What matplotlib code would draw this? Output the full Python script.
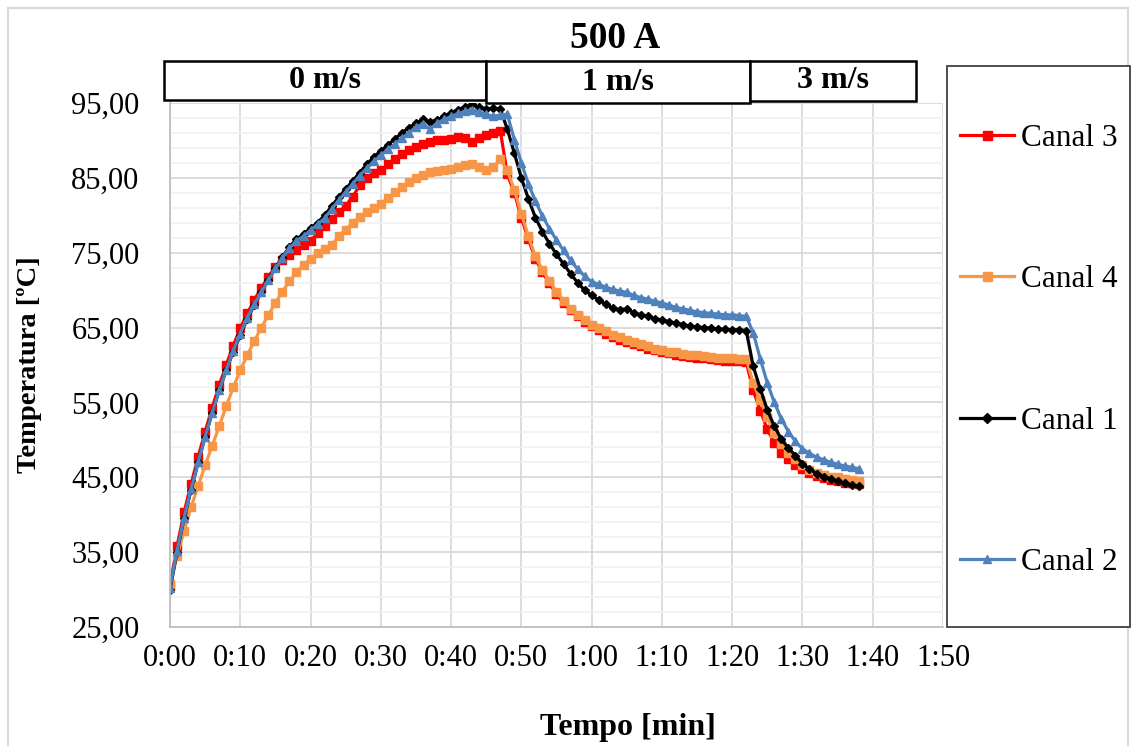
import matplotlib
matplotlib.use('Agg')
import matplotlib.pyplot as plt
from matplotlib.patches import Rectangle
from matplotlib.ticker import FuncFormatter

plt.rcParams['font.family'] = ['Liberation Serif', 'DejaVu Serif']

# tempo em minutos (um ponto por minuto)
tempo = list(range(0, 99))

canal3 = [30.5, 35.8, 40.3, 44.1, 47.7, 51.1, 54.3, 57.3, 60.0, 62.6,
          64.9, 66.9, 68.7, 70.3, 71.8, 73.1, 74.0, 74.7, 75.3, 76.0,
          76.6, 77.6, 78.6, 79.5, 80.4, 81.3, 82.5, 84.0, 85.0, 85.6,
          86.0, 86.8, 87.5, 88.2, 88.7, 89.1, 89.5, 89.8, 90.0, 90.1,
          90.2, 90.4, 90.3, 89.8, 90.3, 90.7, 91.0, 91.3, 85.5, 83.0,
          79.7, 76.8, 74.2, 72.4, 70.9, 69.5, 68.3, 67.3, 66.5, 65.8,
          65.2, 64.7, 64.2, 63.8, 63.4, 63.1, 62.8, 62.5, 62.2, 62.0,
          61.8, 61.6, 61.4, 61.2, 61.1, 61.0, 60.9, 60.8, 60.7, 60.6,
          60.5, 60.5, 60.4, 56.6, 53.9, 51.4, 49.6, 48.3, 47.4, 46.7,
          46.1, 45.6, 45.2, 44.9, 44.7, 44.5, 44.3, 44.2, 44.1]

canal4 = [30.8, 34.5, 37.8, 41.0, 43.8, 46.6, 49.2, 51.8, 54.5, 57.0,
          59.3, 61.3, 63.2, 65.0, 66.7, 68.3, 69.8, 71.2, 72.4, 73.4,
          74.2, 74.9, 75.5, 76.0, 77.2, 78.1, 79.0, 79.8, 80.5, 81.0,
          81.5, 82.3, 83.1, 83.8, 84.4, 85.0, 85.4, 85.8, 85.9, 86.0,
          86.2, 86.5, 86.7, 86.8, 86.4, 86.0, 86.4, 87.5, 86.0, 83.4,
          80.2, 77.2, 74.5, 72.7, 71.2, 69.8, 68.6, 67.5, 66.7, 66.0,
          65.4, 65.0, 64.5, 64.0, 63.7, 63.4, 63.1, 62.8, 62.5, 62.2,
          62.0, 61.8, 61.7, 61.5, 61.4, 61.3, 61.2, 61.1, 61.0, 60.9,
          60.9, 60.8, 60.8, 57.6, 55.3, 53.0, 50.9, 49.5, 48.2, 47.4,
          46.6, 46.0, 45.6, 45.3, 45.1, 45.0, 44.8, 44.6, 44.5]

canal1 = [30.0, 35.0, 39.5, 43.3, 47.0, 50.4, 53.6, 56.6, 59.3, 61.8,
          64.0, 66.2, 68.0, 69.8, 71.4, 73.0, 74.4, 75.8, 76.8, 77.5,
          78.3, 79.0, 80.0, 81.2, 82.4, 83.5, 84.6, 85.7, 86.8, 87.8,
          88.6, 89.4, 90.2, 91.0, 91.7, 92.3, 92.8, 92.5, 92.7, 93.2,
          93.7, 94.1, 94.5, 94.8, 94.4, 94.2, 94.3, 94.2, 91.5, 88.3,
          85.0, 82.2, 79.7, 77.8, 76.2, 74.8, 73.5, 72.2, 71.0, 70.0,
          69.3, 68.7, 68.1, 67.6, 67.4, 67.5, 67.0, 66.7, 66.5, 66.2,
          66.0, 65.8, 65.6, 65.4, 65.2, 65.1, 65.0, 64.9, 64.8, 64.8,
          64.7, 64.7, 64.6, 59.8, 56.8, 54.0, 51.8, 50.1, 48.9, 47.9,
          46.8, 46.1, 45.5, 45.1, 44.8, 44.5, 44.2, 44.0, 43.8]

canal2 = [30.2, 35.2, 39.6, 43.4, 47.0, 50.4, 53.6, 56.6, 59.3, 61.9,
          64.2, 66.3, 68.1, 69.8, 71.3, 72.9, 74.3, 75.6, 76.6, 77.2,
          78.0, 78.8, 79.6, 80.8, 82.0, 83.1, 84.2, 85.3, 86.3, 87.2,
          88.0, 88.8, 89.5, 90.3, 91.0, 91.8, 92.2, 91.5, 92.3, 92.8,
          93.2, 93.6, 93.9, 94.1, 93.8, 93.5, 93.2, 93.4, 93.5, 90.1,
          87.0, 84.2, 81.9, 79.9, 78.2, 76.7, 75.3, 74.0, 72.8, 71.9,
          71.1, 70.8, 70.4, 70.1, 69.9, 69.7, 69.3, 69.0, 68.8, 68.5,
          68.3, 68.0, 67.7, 67.5, 67.3, 67.1, 67.0, 66.9, 66.8, 66.7,
          66.7, 66.6, 66.5, 64.3, 60.8, 57.6, 55.0, 52.8, 51.1, 49.8,
          48.8, 48.2, 47.7, 47.35, 47.0, 46.75, 46.5, 46.35, 46.15]

series = [('Canal 3', canal3, '#FF0000', 's', 5.4),
          ('Canal 4', canal4, '#F79646', 's', 5.4),
          ('Canal 1', canal1, '#000000', 'D', 4.2),
          ('Canal 2', canal2, '#4F81BD', '^', 5.2)]

fases = ['0 m/s', '1 m/s', '3 m/s']
yticks = list(range(25, 96, 10))
xticks = list(range(0, 111, 10))

W, H = 1132, 746
fig = plt.figure(figsize=(W / 100, H / 100), dpi=100)

def px(x0, y0, x1, y1):
    # caixa em pixels (origem no topo) -> coordenadas da figura
    return [x0 / W, 1 - y1 / H, (x1 - x0) / W, (y1 - y0) / H]

ax = fig.add_axes(px(170, 103, 943, 627))

for nome, vals, cor, mk, ms in series:
    ax.plot(tempo, vals, color=cor, lw=2.3, marker=mk, markersize=ms,
            markeredgecolor=cor, label=nome)

ax.set_xlim(0, 110)
ax.set_ylim(25, 95)
ax.set_xticks(xticks)
ax.set_yticks(yticks)
ax.set_yticks(list(range(25, 96, 2)), minor=True)
ax.xaxis.set_major_formatter(FuncFormatter(lambda v, p: f'{int(v) // 60}:{int(v) % 60:02d}'))
ax.yaxis.set_major_formatter(FuncFormatter(lambda v, p: f'{v:.2f}'.replace('.', ',')))
ax.grid(True, which='major', color='#D9D9D9', lw=1.3)
ax.grid(True, which='minor', axis='y', color='#F0F0F0', lw=1.1)
ax.set_axisbelow(True)
ax.tick_params(which='both', length=0, labelsize=22)
ax.tick_params(axis='x', pad=12)
ax.tick_params(axis='y', pad=22)
for s in ['top', 'right']:
    ax.spines[s].set_visible(False)
for s in ['left', 'bottom']:
    ax.spines[s].set_color('#BFBFBF')
    ax.spines[s].set_linewidth(1.3)

# moldura externa do gráfico
fig.patches.append(Rectangle((8 / W, -0.1), 1120 / W, 1.1 - 8 / H, transform=fig.transFigure,
                             fill=False, edgecolor='#D9D9D9', lw=1.5))

# caixas das velocidades
caixas = [(164, 61, 486, 100), (486, 61, 750, 103), (750, 61, 916, 101)]
for (x0, y0, x1, y1), txt in zip(caixas, fases):
    l, b, w, h = px(x0, y0, x1, y1)
    fig.patches.append(Rectangle((l, b), w, h, transform=fig.transFigure,
                                 fill=True, facecolor='white', edgecolor='black', lw=1.8, zorder=5))
    fig.text(l + w / 2, b + h / 2, txt, ha='center', va='center', fontsize=23,
             fontweight='bold', zorder=6)

fig.text(615 / W, 1 - 38 / H, '500 A', ha='center', va='center', fontsize=27, fontweight='bold')

# legenda
lb = px(947, 66, 1130, 627)
fig.patches.append(Rectangle((lb[0], lb[1]), lb[2], lb[3], transform=fig.transFigure,
                             fill=True, facecolor='white', edgecolor='#404040', lw=1.3))
fig.legend(loc='center', bbox_to_anchor=(lb[0] + lb[2] / 2, lb[1] + lb[3] / 2 - 4 / H),
           frameon=False, fontsize=22.5, handlelength=1.75, handletextpad=0.2,
           labelspacing=3.6, markerscale=1.2)

fig.text(30 / W, 1 - 365 / H, 'Temperatura [ºC]', rotation=90, ha='center', va='center',
         fontsize=20.5, fontweight='bold')
fig.text(628 / W, 1 - 728 / H, 'Tempo [min]', ha='center', va='center',
         fontsize=23, fontweight='bold')

fig.savefig('out.png', dpi=100)
